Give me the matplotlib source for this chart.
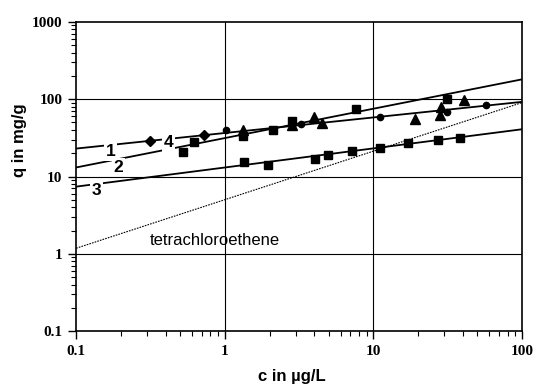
import numpy as np
import matplotlib
matplotlib.use('Agg')
import matplotlib.pyplot as plt
from matplotlib.ticker import LogLocator, NullFormatter

# data
x_dia = [0.313, 0.72]
q_dia = [28.9, 34.2]
x_circ = [1.02, 3.23, 11.1, 31.0, 56.9]
q_circ = [39.7, 48.5, 59.7, 69.3, 83.6]
x_tri = [1.33, 2.81, 3.99, 4.47, 18.9, 28.6, 27.9, 40.8]
q_tri = [39.7, 46.1, 59.0, 49.9, 56.2, 79.7, 62.1, 98.0]
x_sq2 = [0.52, 0.619, 1.33, 2.11, 2.81, 7.61, 31.0]
q_sq2 = [20.8, 28.1, 33.6, 40.1, 52.4, 74.2, 102.0]
x_sq3 = [1.34, 1.95, 4.05, 4.95, 7.12, 11.1, 17.1, 27.2, 38.0]
q_sq3 = [15.6, 14.0, 16.7, 18.9, 21.4, 23.7, 27.0, 29.5, 31.9]

# isotherm lines (end points at c = 0.1 and c = 100)
c_ends = [0.1, 100]
q_line1 = [23.0, 92.5]
q_line2 = [13.1, 181.0]
q_line3 = [7.4, 40.9]
q_tce = [1.18, 90.6]

labels = ['1', '2', '3', '4']
label_x = [0.170, 0.193, 0.137, 0.418]
label_q = [21.2, 13.2, 6.5, 27.6]

fig = plt.figure(figsize=(5.4, 3.85), dpi=100)
ax = fig.add_axes([0.141, 0.140, 0.826, 0.803])
ax.set_xscale('log')
ax.set_yscale('log')
ax.set_xlim(0.1, 100)
ax.set_ylim(0.1, 1000)

for v in [1, 10]:
    ax.axvline(v, color='black', lw=0.8, zorder=1)
for v in [1, 10, 100]:
    ax.axhline(v, color='black', lw=0.8, zorder=1)

ax.plot(c_ends, q_line1, color='black', lw=1.3, zorder=2)
ax.plot(c_ends, q_line2, color='black', lw=1.3, zorder=2)
ax.plot(c_ends, q_line3, color='black', lw=1.3, zorder=2)
ax.plot(c_ends, q_tce, color='black', lw=0.8, ls=(0, (1.5, 1)), zorder=2)

ax.plot(x_dia, q_dia, 'D', color='black', ms=5, zorder=4)
ax.plot(x_circ, q_circ, 'o', color='black', ms=4.5, zorder=4)
ax.plot(x_tri, q_tri, '^', color='black', ms=6.5, zorder=4)
ax.plot(x_sq2, q_sq2, 's', color='black', ms=6, zorder=4)
ax.plot(x_sq3, q_sq3, 's', color='black', ms=6, zorder=4)

for lab, lx, lq in zip(labels, label_x, label_q):
    ax.text(lx, lq, lab, fontsize=12.5, fontweight='bold', family='Liberation Sans',
            ha='center', va='center', zorder=3,
            bbox=dict(facecolor='white', edgecolor='none', pad=1.2))

ax.text(0.85, 1.5, 'tetrachloroethene', fontsize=12, family='Liberation Sans',
        ha='center', va='center', zorder=3)

ax.set_xticks([0.1, 1, 10, 100])
ax.set_xticklabels(['0.1', '1', '10', '100'])
ax.set_yticks([0.1, 1, 10, 100, 1000])
ax.set_yticklabels(['0.1', '1', '10', '100', '1000'])
ax.xaxis.set_minor_locator(LogLocator(base=10, subs=np.arange(2, 10)))
ax.yaxis.set_minor_locator(LogLocator(base=10, subs=np.arange(2, 10)))
ax.xaxis.set_minor_formatter(NullFormatter())
ax.yaxis.set_minor_formatter(NullFormatter())

for lab in ax.get_xticklabels() + ax.get_yticklabels():
    lab.set_family('Liberation Serif')
    lab.set_fontweight('bold')
    lab.set_fontsize(11)

ax.tick_params(which='major', direction='out', length=6, width=1, pad=4)
ax.tick_params(which='minor', direction='out', length=3.5, width=0.8)

for s in ax.spines.values():
    s.set_linewidth(1.2)

ax.set_xlabel('c in µg/L', fontsize=12, fontweight='bold', family='Liberation Sans',
              va='center')
ax.set_ylabel('q in mg/g', fontsize=12, fontweight='bold', family='Liberation Sans',
              va='center')
ax.xaxis.set_label_coords(0.484, -0.146)
ax.yaxis.set_label_coords(-0.126, 0.618)

fig.savefig('out.png', dpi=100)
